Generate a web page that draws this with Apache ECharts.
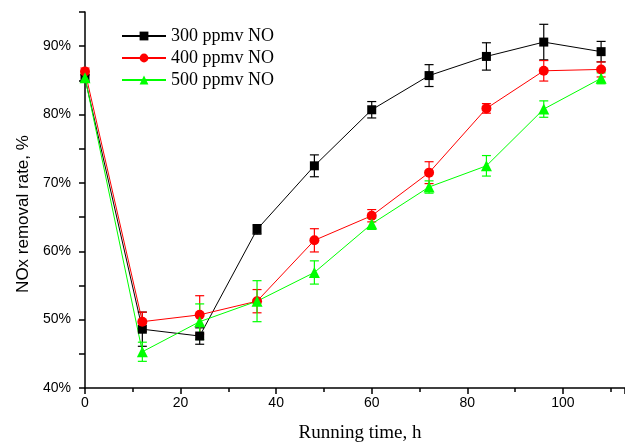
<!DOCTYPE html>
<html>
<head>
<meta charset="utf-8">
<script src="https://cdn.jsdelivr.net/npm/echarts@6/dist/echarts.min.js"></script>
<style>
html,body{margin:0;padding:0;background:#fff;}
#chart{width:625px;height:445px;}
</style>
</head>
<body>
<div id="chart"></div>
<script>
const times = [0, 12, 24, 36, 48, 60, 72, 84, 96, 108];
const seriesNames = ['300 ppmv NO', '400 ppmv NO', '500 ppmv NO'];
const no300 = [85.3, 48.6, 47.6, 63.2, 72.5, 80.7, 85.7, 88.5, 90.6, 89.2];
const no300Err = [0.5, 2.5, 1.2, 0.7, 1.6, 1.2, 1.6, 2.0, 2.6, 1.5];
const no400 = [86.3, 49.7, 50.7, 52.7, 61.6, 65.2, 71.5, 80.9, 86.4, 86.6];
const no400Err = [0.5, 1.4, 2.8, 1.7, 1.7, 0.9, 1.6, 0.7, 1.5, 1.1];
const no500 = [85.4, 45.3, 49.7, 52.7, 56.9, 64.0, 69.4, 72.5, 80.8, 85.3];
const no500Err = [0.5, 1.4, 2.6, 3.0, 1.7, 0.8, 0.9, 1.5, 1.2, 0.8];

const colors = ['#000000', '#ff0000', '#00ff00'];
const symbols = ['rect', 'circle', 'triangle'];
const symbolSizes = [9, 10, 11];
const values = [no300, no400, no500];
const errors = [no300Err, no400Err, no500Err];

function errorSeries(idx) {
  return {
    type: 'custom',
    name: seriesNames[idx] + ' err',
    data: times.map((t, i) => [t, values[idx][i], errors[idx][i]]),
    z: 2,
    renderItem: function (params, api) {
      const x = api.value(0), y = api.value(1), e = api.value(2);
      const top = api.coord([x, y + e]);
      const bot = api.coord([x, y - e]);
      const hw = 4.5;
      const style = { stroke: colors[idx], lineWidth: 1.2 };
      return {
        type: 'group',
        children: [
          { type: 'line', shape: { x1: top[0], y1: top[1], x2: bot[0], y2: bot[1] }, style: style },
          { type: 'line', shape: { x1: top[0] - hw, y1: top[1], x2: top[0] + hw, y2: top[1] }, style: style },
          { type: 'line', shape: { x1: bot[0] - hw, y1: bot[1], x2: bot[0] + hw, y2: bot[1] }, style: style }
        ]
      };
    }
  };
}

function lineSeries(idx) {
  return {
    type: 'line',
    name: seriesNames[idx],
    data: times.map((t, i) => [t, values[idx][i]]),
    symbol: symbols[idx],
    symbolSize: symbolSizes[idx],
    showAllSymbol: true,
    z: 3,
    itemStyle: { color: colors[idx] },
    lineStyle: { color: colors[idx], width: 1 },
    emphasis: { disabled: true },
    animation: false
  };
}

const chart = echarts.init(document.getElementById('chart'), null, { renderer: 'canvas' });
chart.setOption({
  animation: false,
  backgroundColor: '#fff',
  grid: { left: 85, right: 0, top: 12, bottom: 57, containLabel: false, outerBoundsMode: 'none' },
  legend: {
    data: seriesNames,
    orient: 'vertical',
    left: 116,
    top: 21,
    itemWidth: 44,
    itemHeight: 11,
    itemGap: 2,
    textStyle: { fontFamily: 'Liberation Serif', fontSize: 18, color: '#000', lineHeight: 20 },
    selectedMode: false
  },
  xAxis: {
    type: 'value',
    min: 0,
    max: 113,
    interval: 20,
    name: 'Running time, h',
    nameLocation: 'middle',
    nameGap: 36,
    nameTextStyle: { fontFamily: 'Liberation Serif', fontSize: 19, color: '#000', padding: [0, 0, 0, 10] },
    axisLine: { onZero: false, lineStyle: { color: '#000', width: 1.5 } },
    axisTick: { inside: false, length: 6, lineStyle: { color: '#000', width: 1.5 } },
    minorTick: { show: true, splitNumber: 2, length: 4, lineStyle: { color: '#000', width: 1.5 } },
    splitLine: { show: false },
    axisLabel: { margin: 8, fontFamily: 'Liberation Sans', fontSize: 14, color: '#000', showMaxLabel: false }
  },
  yAxis: {
    type: 'value',
    min: 40,
    max: 95,
    interval: 10,
    name: 'NOx removal rate, %',
    nameLocation: 'middle',
    nameGap: 53,
    nameTextStyle: { fontFamily: 'Liberation Sans', fontSize: 17, color: '#000', padding: [0, 28, 0, 0] },
    axisLine: { show: true, onZero: false, lineStyle: { color: '#000', width: 1.5 } },
    axisTick: { show: true, inside: false, length: 6, lineStyle: { color: '#000', width: 1.5 } },
    minorTick: { show: true, splitNumber: 2, length: 6, lineStyle: { color: '#000', width: 1.5 } },
    splitLine: { show: false },
    axisLabel: {
      margin: 14, fontFamily: 'Liberation Sans', fontSize: 14, color: '#000',
      formatter: function (v) { return (v % 10 === 0) ? v + '%' : ''; },
      showMaxLabel: false
    }
  },
  series: [
    errorSeries(0), errorSeries(1), errorSeries(2),
    lineSeries(0), lineSeries(1), lineSeries(2)
  ]
});
</script>
</body>
</html>
